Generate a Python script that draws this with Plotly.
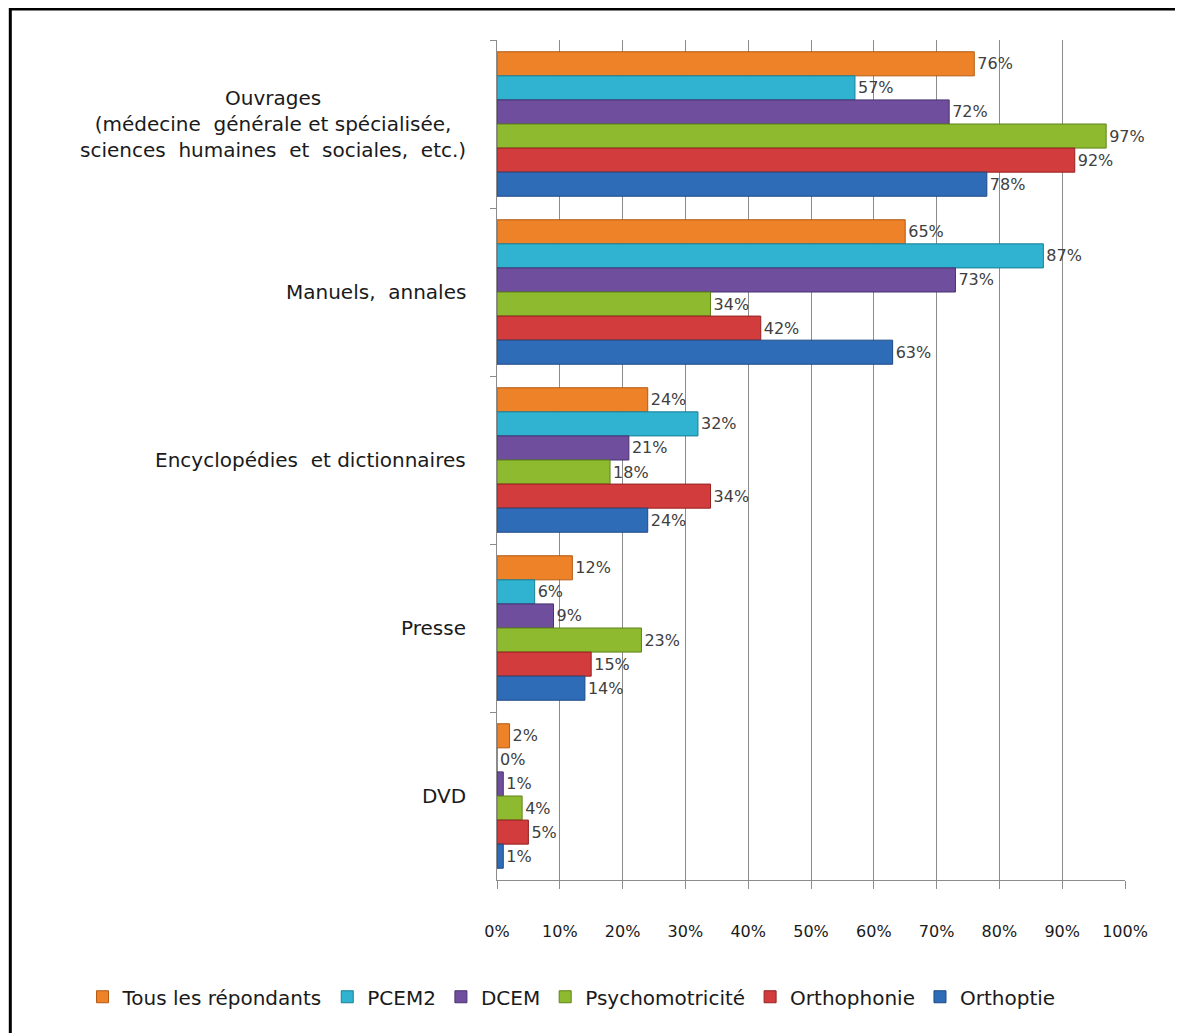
import plotly.graph_objects as go

categories = [
    "Ouvrages<br>(médecine  générale et spécialisée,<br>sciences  humaines  et  sociales,  etc.)",
    "Manuels,  annales",
    "Encyclopédies  et dictionnaires",
    "Presse",
    "DVD",
]
series_names = ["Tous les répondants", "PCEM2", "DCEM", "Psychomotricité", "Orthophonie", "Orthoptie"]
tous = [76, 65, 24, 12, 2]
pcem2 = [57, 87, 32, 6, 0]
dcem = [72, 73, 21, 9, 1]
psycho = [97, 34, 18, 23, 4]
ortho = [92, 42, 34, 15, 5]
orthoptie = [78, 63, 24, 14, 1]
x_ticks = [0, 10, 20, 30, 40, 50, 60, 70, 80, 90, 100]

colors = ["#ee8228", "#2fb3d0", "#6f4e9e", "#8dba2e", "#d23c3c", "#2f6cb8"]
edges = ["#b35a12", "#1a7f96", "#4a3070", "#5f8418", "#952222", "#1d4a85"]

fig = go.Figure()
for name, vals, c, e in zip(series_names, [tous, pcem2, dcem, psycho, ortho, orthoptie], colors, edges):
    fig.add_trace(go.Bar(
        y=categories, x=vals, name=name, orientation="h",
        marker=dict(color=c, line=dict(color=e, width=1)),
        text=["{}%".format(v) for v in vals], textposition="outside",
        textfont=dict(family="DejaVu Sans", size=16, color="#404040"),
        cliponaxis=False,
    ))

# category labels drawn as annotations so the multi-line one is centred
for cat in categories:
    fig.add_annotation(x=-0.046, y=cat, xref="paper", yref="y", text=cat,
                       showarrow=False, xanchor="right", align="center",
                       font=dict(family="DejaVu Sans", size=20, color="#1a1a1a"))

fig.update_layout(
    barmode="group", bargap=0.14, bargroupgap=0,
    width=1183, height=1033,
    margin=dict(l=489, r=66, t=32, b=161),
    paper_bgcolor="white", plot_bgcolor="white",
    font=dict(family="DejaVu Sans", size=16, color="#1a1a1a"),
    showlegend=True,
    legend=dict(orientation="h", x=-0.66, xanchor="left", y=-0.139, yanchor="middle",
                font=dict(size=20), traceorder="normal"),
    shapes=[dict(type="rect", xref="paper", yref="paper", x0=-0.775, x1=1.3,
                 y0=-0.3, y1=1.037, line=dict(color="black", width=3))],
)
fig.update_xaxes(range=[0, 100], tickvals=x_ticks, ticktext=["{}%".format(t) for t in x_ticks],
                 showgrid=True, gridcolor="#8c8c8c", gridwidth=1,
                 showline=True, linecolor="#8c8c8c", ticks="outside", ticklen=8, tickcolor="#8c8c8c",
                 ticklabelstandoff=29, zeroline=False)
fig.update_yaxes(autorange="reversed", showticklabels=False, showline=True, linecolor="#8c8c8c",
                 ticks="outside", tickson="boundaries", ticklen=6, tickcolor="#8c8c8c", showgrid=False)

fig.write_html("out.html")
